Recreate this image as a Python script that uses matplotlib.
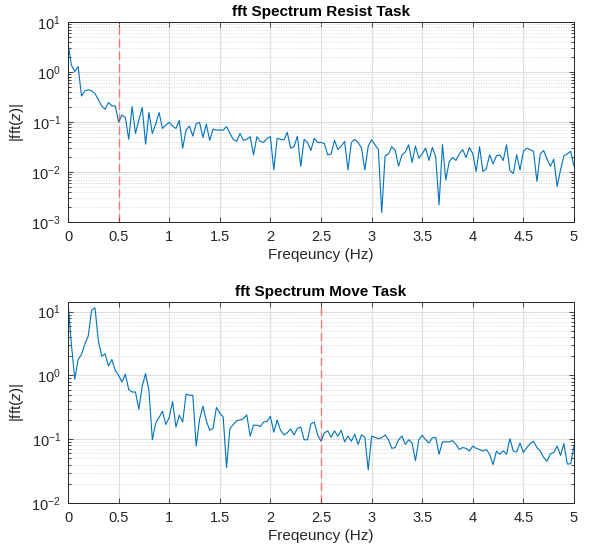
import numpy as np
import matplotlib
matplotlib.use('Agg')
import matplotlib.pyplot as plt
from matplotlib.ticker import FuncFormatter, LogLocator, MultipleLocator

plt.rcParams['font.family'] = ['Liberation Sans', 'DejaVu Sans']
plt.rcParams['mathtext.fontset'] = 'custom'
plt.rcParams['mathtext.rm'] = 'Liberation Sans'
plt.rcParams['mathtext.it'] = 'Liberation Sans:italic'
plt.rcParams['mathtext.bf'] = 'Liberation Sans:bold'

# bin spacing of the spectrum (Hz)
df = 1 / 30

# |fft(z)| for the resist task, one value per bin from 0 to 5 Hz
resist = [3.74, 1.38, 1.02, 1.28, 0.33, 0.42, 0.44, 0.42, 0.37, 0.28,
          0.21, 0.18, 0.245, 0.21, 0.21, 0.10, 0.138, 0.123, 0.045, 0.204,
          0.059, 0.11, 0.195, 0.036, 0.155, 0.059, 0.091, 0.155, 0.074, 0.087,
          0.098, 0.083, 0.074, 0.107, 0.030, 0.069, 0.083, 0.052, 0.093, 0.098,
          0.049, 0.091, 0.043, 0.072, 0.069, 0.069, 0.069, 0.081, 0.059, 0.045,
          0.041, 0.059, 0.043, 0.045, 0.051, 0.022, 0.051, 0.041, 0.039, 0.047,
          0.051, 0.011, 0.047, 0.045, 0.044, 0.062, 0.030, 0.032, 0.052, 0.013,
          0.045, 0.039, 0.027, 0.047, 0.039, 0.039, 0.037, 0.022, 0.023, 0.043,
          0.028, 0.033, 0.041, 0.011, 0.039, 0.045, 0.039, 0.030, 0.011, 0.033,
          0.044, 0.035, 0.028, 0.00155, 0.021, 0.023, 0.032, 0.027, 0.013, 0.022,
          0.025, 0.035, 0.0155, 0.033, 0.019, 0.023, 0.030, 0.017, 0.031, 0.020,
          0.0022, 0.035, 0.0069, 0.016, 0.0195, 0.017, 0.023, 0.028, 0.0195, 0.031,
          0.023, 0.0102, 0.032, 0.0102, 0.0117, 0.022, 0.0145, 0.021, 0.022, 0.017,
          0.035, 0.0107, 0.0093, 0.022, 0.011, 0.026, 0.030, 0.028, 0.026, 0.0065,
          0.023, 0.027, 0.018, 0.013, 0.018, 0.0051, 0.011, 0.021, 0.023, 0.026,
          0.013]

# |fft(z)| for the move task
move = [14.2, 3.09, 0.87, 1.78, 2.14, 3.09, 4.17, 10.5, 11.5, 3.47,
        2.0, 2.19, 1.41, 1.78, 1.2, 1.0, 0.79, 1.05, 0.60, 0.55,
        0.55, 0.295, 0.68, 1.07, 0.575, 0.098, 0.18, 0.22, 0.275, 0.17,
        0.22, 0.39, 0.155, 0.24, 0.186, 0.51, 0.49, 0.49, 0.078, 0.204,
        0.33, 0.195, 0.138, 0.148, 0.316, 0.257, 0.224, 0.036, 0.148, 0.17,
        0.195, 0.20, 0.21, 0.24, 0.112, 0.166, 0.166, 0.158, 0.186, 0.19,
        0.229, 0.129, 0.20, 0.138, 0.117, 0.126, 0.145, 0.117, 0.148, 0.155,
        0.098, 0.098, 0.174, 0.186, 0.117, 0.093, 0.126, 0.135, 0.107, 0.135,
        0.112, 0.138, 0.091, 0.112, 0.093, 0.12, 0.083, 0.117, 0.107, 0.033,
        0.112, 0.107, 0.102, 0.105, 0.117, 0.098, 0.072, 0.074, 0.098, 0.112,
        0.083, 0.098, 0.087, 0.046, 0.098, 0.115, 0.098, 0.087, 0.105, 0.107,
        0.058, 0.091, 0.091, 0.091, 0.095, 0.083, 0.069, 0.074, 0.072, 0.065,
        0.078, 0.072, 0.069, 0.065, 0.069, 0.058, 0.040, 0.065, 0.058, 0.066,
        0.058, 0.102, 0.065, 0.063, 0.087, 0.062, 0.074, 0.085, 0.093, 0.074,
        0.065, 0.052, 0.045, 0.059, 0.062, 0.078, 0.056, 0.085, 0.041, 0.041,
        0.078]

titles = ['fft Spectrum Resist Task', 'fft Spectrum Move Task']
cutoffs = [0.5, 2.5]
ylims = [(1e-3, 10), (1e-2, 14.2)]

fig = plt.figure(figsize=(5.96, 5.54), dpi=100)
ax1 = fig.add_axes([0.1141, 0.5993, 0.849, 0.361])
ax2 = fig.add_axes([0.1141, 0.0921, 0.849, 0.3628])

for ax, vals, title, cut, ylim in zip([ax1, ax2], [resist, move], titles, cutoffs, ylims):
    freq = np.arange(len(vals)) * df
    ax.plot(freq, vals, color='#0072BD', lw=0.8)
    ax.axvline(cut, color='#ff3030', ls=(0, (6, 3)), lw=1.0, alpha=0.6)
    ax.set_yscale('log')
    ax.set_xlim(0, 5)
    ax.set_ylim(*ylim)
    ax.xaxis.set_major_locator(MultipleLocator(0.5))
    ax.xaxis.set_major_formatter(FuncFormatter(lambda v, p: '%g' % v))
    ax.yaxis.set_major_locator(LogLocator(base=10, numticks=10))
    ax.yaxis.set_minor_locator(LogLocator(base=10, subs=np.arange(2, 10), numticks=20))
    ax.grid(True, which='major', color='#dedede', lw=0.8)
    ax.grid(True, which='minor', axis='y', color='#dcdcdc', lw=0.6, ls=(0, (1.5, 1.5)))
    ax.set_axisbelow(True)
    ax.tick_params(which='both', direction='in', top=True, right=True,
                   labelsize=10.5, colors='#262626', width=0.6)
    ax.tick_params(which='major', length=3.5)
    ax.tick_params(which='minor', length=2)
    ax.tick_params(axis='x', pad=6)
    ax.tick_params(axis='y', pad=5)
    for s in ax.spines.values():
        s.set_color('#262626')
        s.set_linewidth(0.7)
    ax.set_title(title, fontsize=11, fontweight='bold', pad=4)
    ax.set_xlabel('Freqeuncy (Hz)', fontsize=11, color='#262626', labelpad=3)
    ax.set_ylabel('|fft($z$)|', fontsize=11, color='#262626', labelpad=4)

fig.savefig('out.png', dpi=100)
